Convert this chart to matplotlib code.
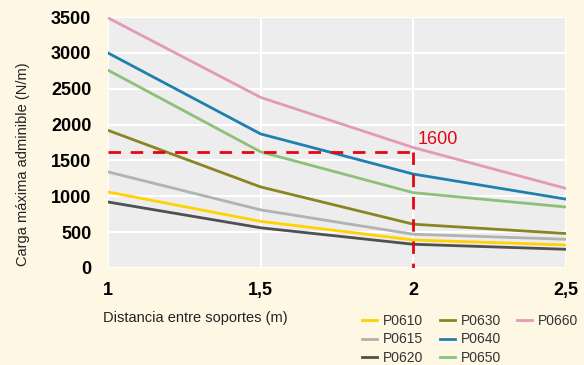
import matplotlib as mpl
mpl.use('Agg')
import matplotlib.pyplot as plt
from matplotlib.lines import Line2D

distancia = [1, 1.5, 2, 2.5]
series = ['P0610', 'P0615', 'P0620', 'P0630', 'P0640', 'P0650', 'P0660']
valores = {
    'P0610': [1060, 650, 390, 320],
    'P0615': [1340, 810, 470, 400],
    'P0620': [920, 560, 330, 260],
    'P0630': [1920, 1130, 610, 480],
    'P0640': [3000, 1870, 1310, 960],
    'P0650': [2760, 1620, 1050, 850],
    'P0660': [3490, 2380, 1680, 1110],
}
colores = {
    'P0610': '#FFD200',
    'P0615': '#B2B2B2',
    'P0620': '#505050',
    'P0630': '#8C8420',
    'P0640': '#1F7FAF',
    'P0650': '#8DC07A',
    'P0660': '#E39AB5',
}
ref_x = 2
ref_y = 1620
ref_label = '1600'

plt.rcParams['font.family'] = ['Liberation Sans', 'DejaVu Sans']

fig = plt.figure(figsize=(5.84, 3.65), dpi=100, facecolor='#FEF7E3')
ax = fig.add_axes([0.185, 0.266, 0.784, 0.687])
ax.set_facecolor('#EDEDED')

for s in series:
    ax.plot(distancia, valores[s], color=colores[s], lw=2.0, label=s, zorder=3)

red = '#E30613'
ax.plot([1, ref_x], [ref_y, ref_y], color=red, lw=2.0, dashes=(4.5, 3.5), zorder=4)
ax.plot([ref_x, ref_x], [ref_y, 0], color=red, lw=2.0, dashes=(4.5, 3.5), zorder=4)
ax.text(ref_x + 0.015, ref_y + 170, ref_label, color=red, fontsize=13, va='center', ha='left', zorder=5)

ax.set_xlim(1, 2.5)
ax.set_ylim(0, 3500)
ax.set_xticks(distancia)
ax.set_xticklabels(['1', '1,5', '2', '2,5'])
ax.set_yticks(range(0, 3501, 500))
ax.grid(True, color='white', lw=1.5, zorder=1)
ax.set_axisbelow(True)
for sp in ax.spines.values():
    sp.set_visible(False)
ax.tick_params(length=0, labelsize=13)
ax.tick_params(axis='y', pad=12)
ax.tick_params(axis='x', pad=10)
for t in ax.get_xticklabels() + ax.get_yticklabels():
    t.set_fontweight('bold')

fig.text(23 / 584, 1 - 164 / 365, 'Carga máxima adminible (N/m)', fontsize=10.5,
         color='#222222', rotation=90, ha='center', va='center')
fig.text(103 / 584, 1 - 318 / 365, 'Distancia entre soportes (m)', fontsize=10.5,
         color='#222222', ha='left', va='center')

handles, labels = ax.get_legend_handles_labels()
handles.append(Line2D([], [], color='none'))
labels.append('')
leg = fig.legend(handles, labels, ncol=3, loc='upper left',
                 bbox_to_anchor=(362 / 584, 1 - 314 / 365), frameon=False,
                 fontsize=10, handlelength=1.1, handletextpad=0.43,
                 columnspacing=1.15, labelspacing=0.32, borderpad=0,
                 borderaxespad=0)
for t in leg.get_texts():
    t.set_color('#333333')

plt.savefig('out.png', facecolor=fig.get_facecolor(), dpi=100)
